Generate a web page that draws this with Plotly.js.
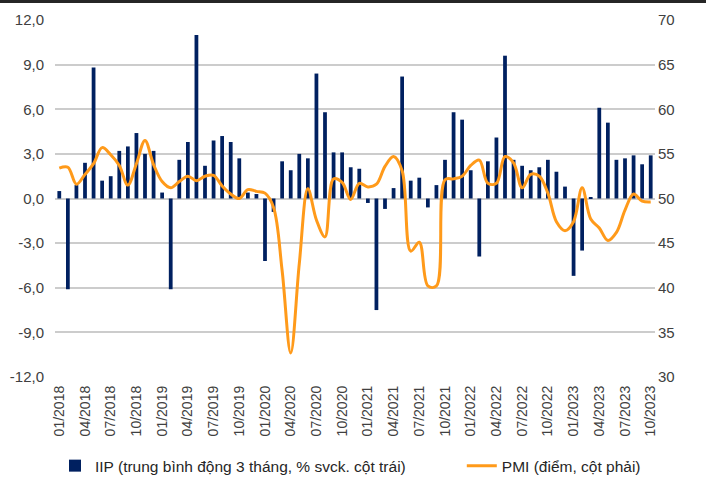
<!DOCTYPE html>
<html>
<head>
<meta charset="utf-8">
<script src="https://cdn.plot.ly/plotly-3.0.1.min.js"></script>
<style>
  html, body { margin: 0; padding: 0; background: #ffffff; }
  #wrap { position: relative; width: 706px; height: 479px; overflow: hidden; }
  #chart { position: absolute; left: 0; top: 0; width: 706px; height: 479px; }
  #topbar { position: absolute; left: 0; top: 0; width: 706px; height: 3px; background: #262626; }
</style>
</head>
<body>
<div id="wrap"><div id="chart"></div><div id="topbar"></div></div>
<script>
// Months 01/2018 .. 10/2023
const months = [
  "01/2018","02/2018","03/2018","04/2018","05/2018","06/2018","07/2018","08/2018","09/2018","10/2018","11/2018","12/2018",
  "01/2019","02/2019","03/2019","04/2019","05/2019","06/2019","07/2019","08/2019","09/2019","10/2019","11/2019","12/2019",
  "01/2020","02/2020","03/2020","04/2020","05/2020","06/2020","07/2020","08/2020","09/2020","10/2020","11/2020","12/2020",
  "01/2021","02/2021","03/2021","04/2021","05/2021","06/2021","07/2021","08/2021","09/2021","10/2021","11/2021","12/2021",
  "01/2022","02/2022","03/2022","04/2022","05/2022","06/2022","07/2022","08/2022","09/2022","10/2022","11/2022","12/2022",
  "01/2023","02/2023","03/2023","04/2023","05/2023","06/2023","07/2023","08/2023","09/2023","10/2023"
];

// IIP, 3-month moving average, % yoy (left axis)
const iip = [
  0.5, -6.1, 0.9, 2.4, 8.8, 1.2, 1.5, 3.2, 3.5, 4.4, 3.0, 3.2,
  0.4, -6.1, 2.6, 3.8, 11.0, 2.2, 3.9, 4.2, 3.8, 2.7, 0.4, 0.3,
  -4.2, -0.9, 2.5, 1.9, 3.0, 2.7, 8.4, 5.8, 3.1, 3.1, 2.1, 2.0,
  -0.3, -7.5, -0.7, 0.7, 8.2, 1.2, 1.4, -0.6, 0.9, 2.6, 5.8, 5.3,
  1.9, -3.9, 2.5, 4.1, 9.6, 2.6, 2.2, 1.9, 2.1, 2.6, 1.8, 0.8,
  -5.2, -3.5, 0.1, 6.1, 5.1, 2.6, 2.7, 2.9, 2.3, 2.9
];

// PMI, points (right axis)
const pmi = [
  53.4, 53.5, 51.6, 52.7, 53.9, 55.7, 54.9, 53.7, 51.5, 53.9, 56.5, 53.8,
  51.9, 51.2, 51.9, 52.5, 52.0, 52.5, 52.6, 51.4, 50.5, 50.0, 51.0, 50.8,
  50.6, 49.0, 41.9, 32.7, 42.7, 51.1, 47.6, 45.7, 52.2, 51.8, 49.9, 51.7,
  51.3, 51.6, 53.6, 54.7, 53.1, 44.1, 45.1, 40.2, 40.2, 52.1, 52.2, 52.5,
  53.7, 54.3, 51.7, 51.7, 54.7, 54.0, 51.2, 52.7, 52.5, 50.6, 47.4, 46.4,
  47.4, 51.2, 47.7, 46.7, 45.3, 46.2, 48.7, 50.5, 49.7, 49.6
];

// Tick labels
const xTicks = months.filter((m, i) => i % 3 === 0);
const leftTickVals = [-12, -9, -6, -3, 0, 3, 6, 9, 12];
const leftTickText = ["-12,0", "-9,0", "-6,0", "-3,0", "0,0", "3,0", "6,0", "9,0", "12,0"];
const rightTickVals = [30, 35, 40, 45, 50, 55, 60, 65, 70];

const FONT = "Liberation Sans, Arial, sans-serif";
const TXT = "#404040";

const traces = [
  {
    type: "bar",
    x: months,
    y: iip,
    name: "IIP (trung bình động 3 tháng, % svck. cột trái)",
    marker: { color: "#002060" },
    yaxis: "y",
    legend: "legend",
    hoverinfo: "x+y"
  },
  {
    type: "scatter",
    mode: "lines",
    x: months,
    y: pmi,
    name: "PMI (điểm, cột phải)",
    line: { color: "#FF9A1A", width: 3, shape: "spline", smoothing: 1 },
    yaxis: "y2",
    legend: "legend2",
    hoverinfo: "x+y"
  }
];

const layout = {
  width: 706,
  height: 479,
  margin: { l: 55, r: 51, t: 20, b: 102, pad: 0, autoexpand: false },
  paper_bgcolor: "#ffffff",
  plot_bgcolor: "#ffffff",
  font: { family: FONT, size: 14, color: TXT },
  bargap: 0.56,
  showlegend: true,
  xaxis: {
    type: "category",
    automargin: false,
    tickmode: "array",
    tickvals: xTicks,
    ticktext: xTicks,
    tickangle: -90,
    ticks: "",
    showgrid: false,
    showline: false,
    zeroline: false,
    tickfont: { family: FONT, size: 14, color: TXT },
    ticklabelstandoff: 5
  },
  yaxis: {
    automargin: false,
    range: [-12, 12],
    tickmode: "array",
    tickvals: leftTickVals,
    ticktext: leftTickText,
    showgrid: true,
    gridcolor: "#cccccc",
    gridwidth: 1.5,
    zeroline: true,
    zerolinecolor: "#cccccc",
    zerolinewidth: 1.5,
    showline: false,
    ticks: "",
    tickfont: { family: FONT, size: 15, color: TXT },
    ticklabelstandoff: 10
  },
  yaxis2: {
    automargin: false,
    range: [30, 70],
    overlaying: "y",
    side: "right",
    tickmode: "array",
    tickvals: rightTickVals,
    showgrid: false,
    zeroline: false,
    showline: false,
    ticks: "",
    tickfont: { family: FONT, size: 15, color: TXT },
    ticklabelstandoff: 2
  },
  legend: {
    orientation: "h",
    x: 0, xanchor: "left",
    yref: "container",
    y: 0.027, yanchor: "middle",
    font: { family: FONT, size: 15.5, color: "#262626" },
    bgcolor: "rgba(0,0,0,0)"
  },
  legend2: {
    orientation: "h",
    x: 0.678, xanchor: "left",
    yref: "container",
    y: 0.027, yanchor: "middle",
    font: { family: FONT, size: 15.5, color: "#262626" },
    bgcolor: "rgba(0,0,0,0)"
  }
};

Plotly.newPlot("chart", traces, layout, { displayModeBar: false, responsive: false });
</script>
</body>
</html>
